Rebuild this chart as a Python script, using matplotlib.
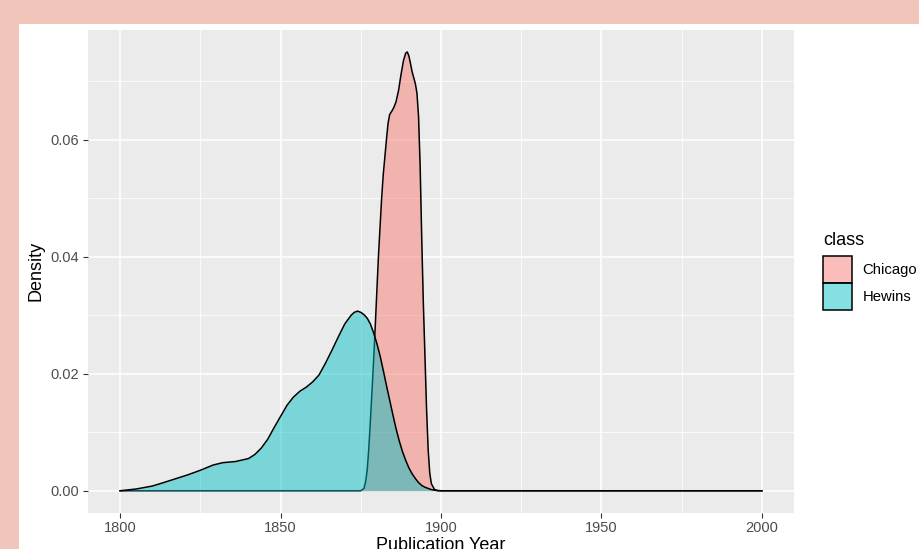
import matplotlib
matplotlib.use("Agg")
import matplotlib.pyplot as plt
from matplotlib.patches import Rectangle, Patch
from matplotlib.colors import to_rgba

# Hewins density curve (year, density)
hewins_year = [1800, 1805, 1810, 1813, 1817, 1821, 1825, 1829, 1832, 1836, 1840,
               1842, 1844, 1846, 1848, 1850, 1852, 1854, 1856, 1858, 1860, 1862,
               1864, 1866, 1868, 1870, 1872, 1873, 1874, 1875, 1876, 1877, 1878,
               1879, 1880, 1881, 1882, 1883, 1884, 1885, 1886, 1887, 1888, 1889,
               1890, 1891, 1892, 1893, 1894, 1895, 1896, 1897, 1898, 1900, 1950, 2000]
hewins_dens = [0.0000, 0.0003, 0.0008, 0.0013, 0.0020, 0.0027, 0.0035, 0.0044, 0.0048, 0.0050, 0.0055,
               0.0062, 0.0073, 0.0088, 0.0108, 0.0127, 0.0146, 0.0160, 0.0170, 0.0177, 0.0186, 0.0198,
               0.0218, 0.0240, 0.0263, 0.0285, 0.0300, 0.0305, 0.0307, 0.0305, 0.0301, 0.0295, 0.0285,
               0.0270, 0.0252, 0.0231, 0.0206, 0.0180, 0.0155, 0.0130, 0.0106, 0.0085, 0.0067, 0.0052,
               0.0039, 0.0029, 0.0021, 0.0014, 0.0009, 0.0006, 0.0004, 0.0002, 0.0001, 0.0000, 0.0000, 0.0000]

# Chicago density curve (year, density)
chicago_year = [1800, 1850, 1875, 1876, 1876.5, 1877, 1877.5, 1878, 1878.5, 1879, 1879.5, 1880,
                1880.5, 1881, 1881.5, 1882, 1882.5, 1883, 1883.5, 1884, 1884.7, 1885.3,
                1886, 1886.8, 1887.5, 1888.3, 1889, 1889.5, 1890, 1890.5, 1891, 1892,
                1892.5, 1893, 1893.5, 1894, 1894.5, 1895, 1895.5, 1896, 1896.5, 1897,
                1898, 1899, 1950, 2000]
chicago_dens = [0.0, 0.0, 0.0000, 0.0004, 0.0015, 0.0035, 0.0072, 0.0120, 0.0170, 0.0222, 0.0280, 0.0340,
                0.0400, 0.0450, 0.0500, 0.0540, 0.0570, 0.0600, 0.0628, 0.0643, 0.0649, 0.0655,
                0.0665, 0.0685, 0.0710, 0.0735, 0.0748, 0.0750, 0.0743, 0.0730, 0.0716, 0.0696,
                0.0680, 0.0640, 0.0555, 0.0430, 0.0320, 0.0230, 0.0140, 0.0070, 0.0030, 0.0012,
                0.0002, 0.0000, 0.0, 0.0]

classes = ["Chicago", "Hewins"]
colors = ["#F8766D", "#00BFC4"]
x_ticks = [1800, 1850, 1900, 1950, 2000]
y_ticks = [0.00, 0.02, 0.04, 0.06]
y_tick_labels = ["0.00", "0.02", "0.04", "0.06"]

plt.rcParams['font.family'] = ['Liberation Sans', 'DejaVu Sans']

fig = plt.figure(figsize=(9.19, 5.49), dpi=100, facecolor="#F2C5BA")
fig.add_artist(Rectangle((19 / 919, 0), 1, (549 - 24) / 549, transform=fig.transFigure,
                         facecolor="white", edgecolor="none", zorder=-1))

ax = fig.add_axes([88 / 919, 1 - 512.7 / 549, (794 - 88) / 919, (512.7 - 30) / 549])
ax.set_facecolor("#EBEBEB")
for s in ax.spines.values():
    s.set_visible(False)

alpha = 0.48
z = 2
for name, col, xs, ys in [("Chicago", colors[0], chicago_year, chicago_dens),
                          ("Hewins", colors[1], hewins_year, hewins_dens)]:
    ax.fill_between(xs, ys, 0, color=col, alpha=alpha, linewidth=0, zorder=z)
    ax.plot(xs, ys, color="black", lw=1.1, zorder=z + 1)
    z += 2

ax.set_xlim(1790, 2010)
ax.set_ylim(-0.00375, 0.07875)
ax.set_xticks(x_ticks)
ax.set_xticks([1825, 1875, 1925, 1975], minor=True)
ax.set_yticks(y_ticks)
ax.set_yticklabels(y_tick_labels)
ax.set_yticks([0.01, 0.03, 0.05, 0.07], minor=True)
ax.grid(which="major", color="white", lw=1.1)
ax.grid(which="minor", color="white", lw=0.55)
ax.set_axisbelow(True)
ax.tick_params(which="major", length=3.8, width=0.8, color="#333333",
               labelsize=10.5, labelcolor="#4D4D4D", pad=2.5)
ax.tick_params(which="minor", length=0)

ax.set_xlabel("Publication Year", fontsize=13, color="black")
ax.xaxis.set_label_coords(0.5, -0.05)
ax.set_ylabel("Density", fontsize=13, color="black")
ax.yaxis.set_label_coords(-0.062, 0.5)

# legend: title as its own text, keys below it
fig.text(823 / 919, 1 - 245 / 549, "class", fontsize=13, ha="left", va="baseline")
handles = [Patch(facecolor=to_rgba(c, alpha), edgecolor="black", lw=1.1) for c in colors]
leg = fig.legend(handles, classes, loc="upper left",
                 bbox_to_anchor=(823 / 919, 1 - 256 / 549), frameon=False,
                 fontsize=10.7, handlelength=1.95, handleheight=2.4,
                 labelspacing=0.0, handletextpad=0.7, borderpad=0, borderaxespad=0)

fig.savefig("out.png", dpi=100)
